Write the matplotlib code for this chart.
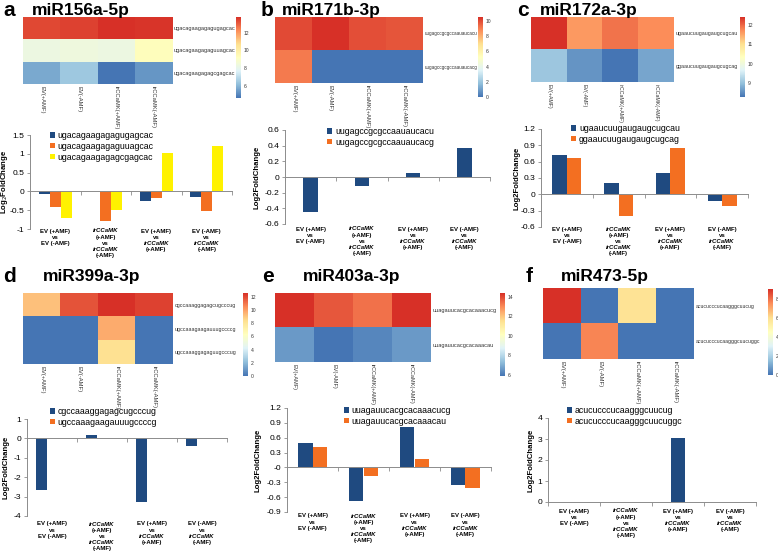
import numpy as np
import matplotlib
matplotlib.use('Agg')
import matplotlib.pyplot as plt
from matplotlib.colors import LinearSegmentedColormap

plt.rcParams['font.family'] = ['Liberation Sans', 'DejaVu Sans']
plt.rcParams['axes.unicode_minus'] = False

W, H = 778, 552

# ---- data ----
conditions = ['EV(+AMF)', 'EV(-AMF)', 'irCCaMK(+AMF)', 'irCCaMK(-AMF)']
comparisons = [
    ['EV (+AMF)', 'vs', 'EV (-AMF)'],
    ['irCCaMK', '(+AMF)', 'vs', 'irCCaMK', '(-AMF)'],
    ['EV (+AMF)', 'vs', 'irCCaMK', '(+AMF)'],
    ['EV (-AMF)', 'vs', 'irCCaMK', '(-AMF)'],
]

a_name = 'miR156a-5p'
a_seqs = ['ugacagaagagagugagcac', 'ugacagaagagaguuagcac', 'ugacagaagagagcgagcac']
a_heat = [[13.4, 13.5, 13.8, 13.7],
          [8.3, 8.4, 8.3, 9.3],
          [5.7, 6.4, 4.6, 5.3]]
a_fc = [[-0.08, 0.0, -0.25, -0.15],
        [-0.42, -0.78, -0.18, -0.52],
        [-0.70, -0.50, 1.03, 1.22]]

b_name = 'miR171b-3p'
b_seqs = ['uugagccgcgccaauaucacu', 'uugagccgcgccaauaucacg']
b_heat = [[10.0, 10.5, 9.9, 9.8],
          [9.1, 0.0, 0.0, 0.0]]
b_fc = [[-0.45, -0.12, 0.05, 0.37],
        [0.0, 0.0, 0.0, 0.0]]

c_name = 'miR172a-3p'
c_seqs = ['ugaaucuugaugaugcugcau', 'ggaaucuugaugaugcugcag']
c_heat = [[12.4, 11.6, 11.9, 11.7],
          [9.1, 8.6, 8.3, 8.75]]
c_fc = [[0.72, 0.21, 0.40, -0.12],
        [0.66, -0.40, 0.85, -0.21]]

d_name = 'miR399a-3p'
d_seqs = ['cgccaaaggagagcugcccug', 'ugccaaagaagauuugccccg', 'ugccaaaggagaguugcccug']
d_heat = [[9.2, 11.8, 12.6, 12.2],
          [0.0, 0.0, 9.7, 0.0],
          [0.0, 0.0, 8.3, 0.0]]
d_fc = [[-2.65, 0.2, -3.3, -0.4],
        [0.0, 0.0, 0.0, 0.0]]
d_legend = ['cgccaaaggagagcugcccug', 'ugccaaagaagauuugccccg']

e_name = 'miR403a-3p'
e_seqs = ['uuagauucacgcacaaacucg', 'uuagauucacgcacaaacau']
e_heat = [[14.4, 13.8, 13.4, 14.4],
          [6.6, 5.9, 6.25, 6.6]]
e_fc = [[0.50, -0.68, 0.82, -0.35],
        [0.41, -0.18, 0.17, -0.41]]

f_name = 'miR473-5p'
f_seqs = ['acucucccucaagggcuucug', 'acucucccucaagggcuucuggc']
f_heat = [[9.1, 0.0, 5.9, 0.0],
          [0.0, 7.7, 0.0, 0.0]]
f_fc = [[0.0, 0.0, 3.05, 0.0],
        [0.0, 0.0, 0.0, 0.0]]

bar_colors = ['#1F4A80', '#F36F21', '#FFF200']
cmap = LinearSegmentedColormap.from_list(
    'rdylbu', ['#4575B4', '#91BFDB', '#E0F3F8', '#FFFFBF', '#FEE090', '#FC8D59', '#D73027'])

fig = plt.figure(figsize=(W / 100, H / 100), dpi=100)


def px_axes(x0, y0, x1, y1):
    return fig.add_axes([x0 / W, 1 - y1 / H, (x1 - x0) / W, (y1 - y0) / H])


def heatmap(data, seqs, hm_box, cb_box, rowfs, colfs=4.2):
    ax = px_axes(*hm_box)
    data = np.array(data)
    im = ax.imshow(data, cmap=cmap, aspect='auto', interpolation='nearest',
                   vmin=data.min(), vmax=data.max())
    for s in ax.spines.values():
        s.set_visible(False)
    ax.yaxis.tick_right()
    ax.set_yticks(range(len(seqs)))
    ax.set_yticklabels(seqs, fontsize=rowfs, color='#333333')
    ax.set_xticks(range(len(conditions)))
    ax.set_xticklabels(conditions, rotation=270, fontsize=colfs, color='#333333')
    ax.tick_params(length=0, pad=1.5)
    cax = px_axes(*cb_box)
    cb = fig.colorbar(im, cax=cax)
    cb.outline.set_visible(False)
    cax.tick_params(length=0, labelsize=3.6, pad=2, labelcolor='#333333')


def barchart(fc, labels, box, ylim, step, width, offsets, leg_xy, ylab_x, ylab,
             lab_off, leg_space=0.2):
    ax = px_axes(*box)
    x = np.arange(4)
    handles = []
    for k, vals in enumerate(fc):
        h = ax.bar(x + offsets[k], vals, width, color=bar_colors[k], label=labels[k])
        handles.append(h)
    ax.set_xlim(-0.5, 3.5)
    ax.set_ylim(*ylim)
    ax.set_yticks(np.arange(ylim[0], ylim[1] + step / 2, step))
    ax.yaxis.set_major_formatter(matplotlib.ticker.FuncFormatter(lambda v, p: '%g' % round(v, 2)))
    ax.set_xticks([-0.5, 0.5, 1.5, 2.5, 3.5])
    ax.set_xticklabels([])
    for s in ['top', 'right']:
        ax.spines[s].set_visible(False)
    ax.spines['bottom'].set_position(('data', 0))
    for s in ['left', 'bottom']:
        ax.spines[s].set_color('#8C8C8C')
        ax.spines[s].set_linewidth(0.7)
    ax.tick_params(axis='y', length=2.5, width=0.6, color='#8C8C8C', labelsize=6.1, pad=1.5)
    ax.tick_params(axis='x', length=3, width=0.6, color='#8C8C8C')
    for i, lines in enumerate(comparisons):
        for j, line in enumerate(lines):
            ax.annotate(line, xy=(i, 0), xycoords=('data', 'axes fraction'),
                        xytext=(0, -(lab_off + j * 6.1) * 0.72), textcoords='offset points',
                        ha='center', va='center', fontsize=4.3, fontweight='bold',
                        fontstyle='italic' if 'irCCaMK' in line else 'normal')
    ax.legend(handles=handles, loc='upper left',
              bbox_to_anchor=(leg_xy[0] / W, 1 - leg_xy[1] / H),
              bbox_transform=fig.transFigure, frameon=False, fontsize=6.3,
              handlelength=0.55, handleheight=0.55, handletextpad=0.35,
              labelspacing=leg_space, borderpad=0, borderaxespad=0)
    yc = (box[1] + box[3]) / 2
    fig.text(ylab_x / W, 1 - yc / H, ylab, rotation=90, ha='center', va='center',
             fontsize=5.6, fontweight='bold')


def header(letter, name, lx, tx, y):
    fig.text(lx / W, 1 - y / H, letter, fontsize=15, fontweight='bold', va='center', ha='left')
    fig.text(tx / W, 1 - y / H, name, fontsize=12.5, fontweight='bold', va='center', ha='left')


# panel a
header('a', a_name, 3, 32, 11)
heatmap(a_heat, a_seqs, (23, 17, 172, 84), (236, 17, 241, 98), 4.1)
barchart(a_fc, a_seqs, (30, 135, 232, 229), (-1, 1.5), 0.5, 0.22, [-0.22, 0, 0.22],
         (50, 131), 5, 'Log$_2$FoldChange', 2)

# panel b
header('b', b_name, 261, 282, 11)
heatmap(b_heat, b_seqs, (275, 17, 423, 83), (478, 17, 483, 97), 3.3)
barchart(b_fc, b_seqs, (285, 130, 490, 224), (-0.6, 0.6), 0.2, 0.28, [0.0, 0.28],
         (327, 127), 257, 'Log2FoldChange', 5)

# panel c
header('c', c_name, 517, 540, 11)
heatmap(c_heat, c_seqs, (531, 17, 674, 82), (740, 17, 745, 97), 3.9, 3.8)
barchart(c_fc, c_seqs, (541, 129, 748, 227), (-0.6, 1.2), 0.3, 0.28, [-0.14, 0.14],
         (571, 124), 517, 'Log2FoldChange', 2.5)

# panel d
header('d', d_name, 3, 43, 277)
heatmap(d_heat, d_seqs, (23, 293, 173, 364), (243, 293, 248, 376), 3.9)
barchart(d_fc, d_legend, (27, 419, 227, 516), (-4, 1), 1, 0.22, [-0.22, 0.0],
         (50, 407), 6, 'Log2FoldChange', 8)

# panel e
header('e', e_name, 262, 303, 277)
heatmap(e_heat, e_seqs, (275, 293, 431, 362), (500, 293, 505, 376), 4.1, 4.0)
barchart(e_fc, e_seqs, (287, 408, 491, 512), (-0.9, 1.2), 0.3, 0.28, [-0.14, 0.14],
         (344, 406), 258, 'Log2FoldChange', 4)

# panel f
header('f', f_name, 526, 561, 277)
heatmap(f_heat, f_seqs, (543, 288, 694, 359), (768, 289, 773, 375), 3.7)
barchart(f_fc, f_seqs, (548, 418, 756, 502), (0, 4), 1, 0.28, [0.0, 0.28],
         (567, 406), 531, 'Log2FoldChange', 9)

fig.savefig('out.png', dpi=100)
